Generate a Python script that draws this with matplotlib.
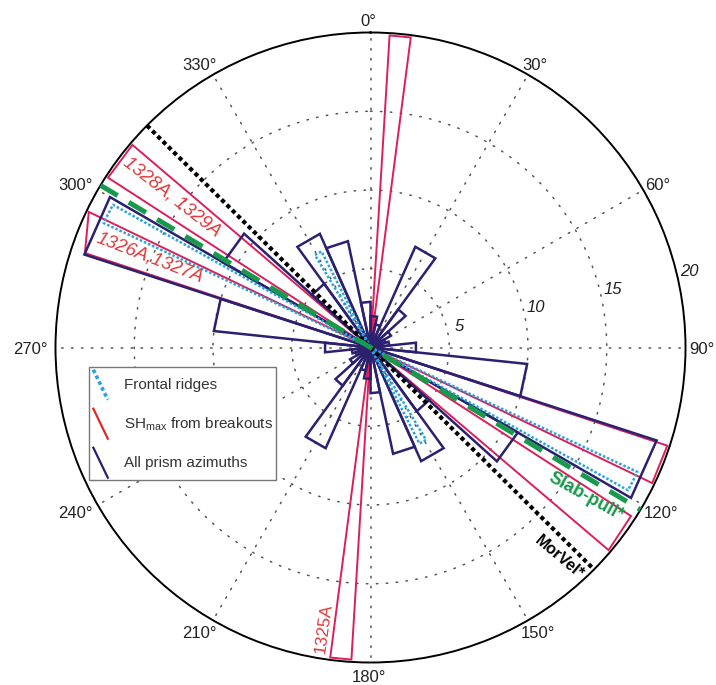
import numpy as np
import matplotlib
matplotlib.use('Agg')
import matplotlib.pyplot as plt
from matplotlib.lines import Line2D
from matplotlib.legend_handler import HandlerBase

plt.rcParams['font.family'] = ['Liberation Sans', 'DejaVu Sans']
plt.rcParams['mathtext.fontset'] = 'custom'
plt.rcParams['mathtext.rm'] = 'Liberation Sans'
plt.rcParams['mathtext.it'] = 'Liberation Sans:italic'

# ---------------- data ----------------
# All prism azimuths: 12-degree axial bins (0-180, mirrored to 180-360)
prism_lo = [0, 12, 24, 36, 48, 60, 72, 84, 96, 108, 120, 132, 144, 156, 168]
prism_hi = [12, 24, 36, 48, 60, 72, 84, 96, 108, 120, 132, 144, 156, 168, 180]
prism_counts = [2.0, 1.5, 7.0, 3.0, 1.5, 1.0, 1.2, 2.9, 10.0, 19.1, 10.8, 5.0, 7.9, 6.9, 2.9]

# Frontal ridges
ridge_lo = [115.0, 149.0]
ridge_hi = [119.0, 153.0]
ridge_counts = [18.7, 6.85]

# SHmax from breakouts (azimuth range and box end radii, both directions)
shmax_lo = [3.5, 108.3, 122.9]
shmax_hi = [7.4, 115.7, 130.4]
shmax_end_fwd = [[19.85, 19.85], [19.85, 19.85], [19.7, 19.85]]
shmax_end_rev = [[19.85, 19.85], [19.1, 19.85], [19.85, 19.85]]
shmax_labels = ['1325A', '1326A,1327A', '1328A, 1329A']

# reference azimuths
slab_pull_az = 121.0
morvel_az = 134.8

theta_ticks = list(range(0, 360, 30))
theta_labels = [f'{t}°' for t in theta_ticks]
r_ticks = [5, 10, 15, 20]
r_max = 20

# ---------------- style ----------------
NAVY = '#2b2170'
PINK = '#dc1e5a'
REDTXT = '#e0393b'
CYAN = '#27a3db'
GREEN = '#179a4b'
GRID = '#555555'

fig = plt.figure(figsize=(7.16, 6.85), dpi=100)
cx, cy, R = 370.5, 685 - 347.5, 315.0
ax = fig.add_axes([(cx - R) / 716, (cy - R) / 685, 2 * R / 716, 2 * R / 685],
                  projection='polar')
ax.set_theta_zero_location('N')
ax.set_theta_direction(-1)
ax.set_ylim(0, r_max)
ax.set_axisbelow(True)

ax.set_xticks(np.deg2rad(theta_ticks))
ax.set_xticklabels([])
ax.set_yticks(r_ticks[:-1])
ax.set_yticklabels([])
ax.grid(True, color=GRID, linestyle=(0, (1, 5.5)), linewidth=1.1)
for gl in ax.xaxis.get_gridlines() + ax.yaxis.get_gridlines():
    gl.set_dash_capstyle('round')
ax.spines['polar'].set_linewidth(1.4)
ax.spines['polar'].set_color('black')

# angular labels placed just outside the rim (box touching a ring of gap g)
PX = 0.72  # points per pixel at 100 dpi
FS_T = 12
em = FS_T / PX
for t, lab in zip(theta_ticks, theta_labels):
    a = np.deg2rad(t)
    w = em * (0.556 * (len(lab) - 1) + 0.4)
    h = 14.0
    g = 5.75
    dx = (g + w / 2) * np.sin(a) - 2.0
    dy = (g + h / 2) * np.cos(a) - 1.75
    ax.annotate(lab, xy=(a, r_max), xytext=(dx * PX, dy * PX),
                textcoords='offset points', ha='center', va='center',
                fontsize=FS_T, color='#222222', annotation_clip=False)

# radial labels
for v in r_ticks:
    ax.text(np.deg2rad(76.5), v + 0.8, str(v), fontsize=12, style='italic',
            color='#222222', ha='center', va='center')


def box(lo, hi, r1, r2, **kw):
    ax.plot(np.deg2rad([lo, lo, hi, hi]), [0, r1, r2, 0], **kw)


def wedge(lo, hi, r, **kw):
    for off in (0, 180):
        box(lo + off, hi + off, r, r, **kw)


# SHmax boxes
for lo, hi, ef, er in zip(shmax_lo, shmax_hi, shmax_end_fwd, shmax_end_rev):
    kw = dict(color=PINK, lw=1.4, zorder=2, solid_joinstyle='miter')
    box(lo, hi, ef[0], ef[1], **kw)
    box(lo + 180, hi + 180, er[0], er[1], **kw)

# prism azimuths
for lo, hi, r in zip(prism_lo, prism_hi, prism_counts):
    wedge(lo, hi, r, color=NAVY, lw=1.8, zorder=3, solid_joinstyle='miter')

# frontal ridges
for lo, hi, r in zip(ridge_lo, ridge_hi, ridge_counts):
    wedge(lo, hi, r, color=CYAN, lw=1.8, linestyle=(0, (1, 0.8)), zorder=4)

# MorVel
ax.plot(np.deg2rad([morvel_az + 180, 0, morvel_az]), [r_max, 0, r_max],
        color='black', lw=3.0, linestyle=(0, (1, 0.8)), zorder=5,
        dash_capstyle='butt')
# slab pull
ax.plot(np.deg2rad([slab_pull_az + 180, 0, slab_pull_az]), [r_max, 0, r_max],
        color=GREEN, lw=3.6, linestyle=(0, (4, 2.6)), zorder=6,
        dash_capstyle='butt')

# annotations
ax.text(np.deg2rad(307.2), 15.8, shmax_labels[2], color=REDTXT, fontsize=13.5,
        style='italic', rotation=-38, ha='center', va='center', zorder=7)
ax.text(np.deg2rad(292.1), 15.1, shmax_labels[1], color=REDTXT, fontsize=13.5,
        style='italic', rotation=-21, ha='center', va='center', zorder=7)
ax.text(np.deg2rad(189.4), 18.05, shmax_labels[0], color=REDTXT, fontsize=12.5,
        rotation=82, ha='center', va='center', zorder=7)
ax.text(np.deg2rad(124.75), 16.65, 'Slab-pull*', color=GREEN, fontsize=13,
        fontweight='bold', rotation=-29, ha='center', va='center', zorder=7)
ax.text(np.deg2rad(138.0), 17.9, 'MorVel*', color='black', fontsize=11.5,
        fontweight='bold', rotation=-40, ha='center', va='center', zorder=7)


# legend with diagonal handles
class HandlerDiag(HandlerBase):
    def create_artists(self, legend, orig_handle, xdescent, ydescent,
                       width, height, fontsize, trans):
        line = Line2D([0.1 * width - xdescent, 1.0 * width - xdescent],
                      [1.0 * height - ydescent, 0.0 * height - ydescent],
                      color=orig_handle.get_color(),
                      lw=orig_handle.get_linewidth(),
                      transform=trans)
        if orig_handle.get_gid() == 'dotted':
            line.set_linestyle((0, (1, 0.8)))
        return [line]


h_ridge = Line2D([], [], color=CYAN, lw=2.6, gid='dotted')
h_sh = Line2D([], [], color='#e02828', lw=1.6)
h_all = Line2D([], [], color=NAVY, lw=1.6)
leg = fig.legend([h_ridge, h_sh, h_all],
                 ['Frontal ridges', r'SH$_{\rm max}$ from breakouts', 'All prism azimuths'],
                 handler_map={Line2D: HandlerDiag()},
                 loc='upper left', bbox_to_anchor=(89 / 716, 1 - 367 / 685),
                 bbox_transform=fig.transFigure, borderaxespad=0,
                 fontsize=11, handlelength=1.05, handleheight=2.64,
                 labelspacing=0.59, handletextpad=1.05, borderpad=0.18,
                 fancybox=False, framealpha=1, edgecolor='#777777')
leg.get_frame().set_linewidth(1.0)
for t in leg.get_texts():
    t.set_color('#333333')

fig.savefig('out.png', dpi=100, facecolor='white')
